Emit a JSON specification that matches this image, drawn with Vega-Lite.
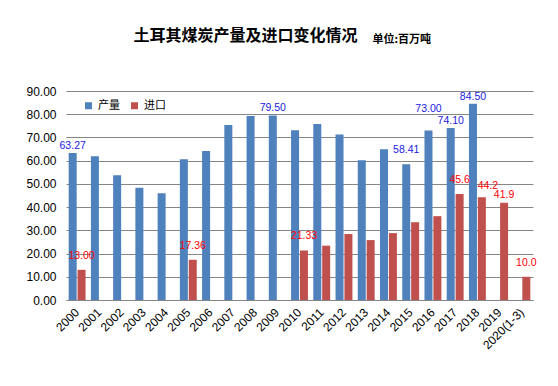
{
  "$schema": "https://vega.github.io/schema/vega-lite/v6.json",
  "width": 467,
  "height": 209,
  "autosize": {"type": "none"},
  "padding": {"left": 66, "top": 91, "right": 25, "bottom": 86},
  "background": "white",
  "title": {
    "text": "土耳其煤炭产量及进口变化情况",
    "anchor": "middle",
    "frame": "group",
    "dx": -54,
    "offset": -24,
    "baseline": "alphabetic",
    "font": "Noto Sans CJK SC",
    "fontSize": 16,
    "fontWeight": "bold",
    "color": "#000000"
  },
  "data": {
    "values": [
      {"year": "2000", "series": "产量", "value": 63.27, "label": "63.27"},
      {"year": "2000", "series": "进口", "value": 13.0, "label": "13.00"},
      {"year": "2001", "series": "产量", "value": 61.9},
      {"year": "2002", "series": "产量", "value": 53.7},
      {"year": "2003", "series": "产量", "value": 48.3},
      {"year": "2004", "series": "产量", "value": 46.0},
      {"year": "2005", "series": "产量", "value": 60.6},
      {"year": "2005", "series": "进口", "value": 17.36, "label": "17.36"},
      {"year": "2006", "series": "产量", "value": 64.2},
      {"year": "2007", "series": "产量", "value": 75.4},
      {"year": "2008", "series": "产量", "value": 79.2},
      {"year": "2009", "series": "产量", "value": 79.5, "label": "79.50"},
      {"year": "2010", "series": "产量", "value": 73.1},
      {"year": "2010", "series": "进口", "value": 21.33, "label": "21.33"},
      {"year": "2011", "series": "产量", "value": 75.8},
      {"year": "2011", "series": "进口", "value": 23.4},
      {"year": "2012", "series": "产量", "value": 71.3},
      {"year": "2012", "series": "进口", "value": 28.4},
      {"year": "2013", "series": "产量", "value": 60.2},
      {"year": "2013", "series": "进口", "value": 25.8},
      {"year": "2014", "series": "产量", "value": 64.9},
      {"year": "2014", "series": "进口", "value": 28.8},
      {"year": "2015", "series": "产量", "value": 58.41, "label": "58.41"},
      {"year": "2015", "series": "进口", "value": 33.5},
      {"year": "2016", "series": "产量", "value": 73.0, "label": "73.00"},
      {"year": "2016", "series": "进口", "value": 36.1},
      {"year": "2017", "series": "产量", "value": 74.1, "label": "74.10"},
      {"year": "2017", "series": "进口", "value": 45.6, "label": "45.6"},
      {"year": "2018", "series": "产量", "value": 84.5, "label": "84.50"},
      {"year": "2018", "series": "进口", "value": 44.2, "label": "44.2"},
      {"year": "2019", "series": "进口", "value": 41.9, "label": "41.9"},
      {"year": "2020(1-3)", "series": "进口", "value": 10.0, "label": "10.0"}
    ]
  },
  "encoding": {
    "x": {
      "field": "year",
      "type": "nominal",
      "sort": null,
      "scale": {"paddingInner": 0.24, "paddingOuter": 0.12},
      "axis": {
        "title": null,
        "labelAngle": -45,
        "labelAlign": "right",
        "labelBaseline": "middle",
        "labelPadding": 10,
        "ticks": false,
        "domainColor": "#868686",
        "labelFont": "Liberation Sans",
        "labelFontSize": 12,
        "labelColor": "#000000"
      }
    },
    "xOffset": {
      "field": "series",
      "type": "nominal",
      "scale": {"domain": ["产量", "进口"], "paddingInner": 0.1}
    },
    "y": {
      "field": "value",
      "type": "quantitative",
      "scale": {"domain": [0, 90], "nice": false},
      "axis": {
        "title": "单位:百万吨",
        "titleAngle": 0,
        "titleAlign": "left",
        "titleBaseline": "alphabetic",
        "titleX": 306,
        "titleY": -49,
        "titleFont": "Noto Sans CJK SC",
        "titleFontSize": 11,
        "titleFontWeight": "bold",
        "titleColor": "#000000",
        "values": [0, 10, 20, 30, 40, 50, 60, 70, 80, 90],
        "format": ".2f",
        "ticks": false,
        "domain": false,
        "labelPadding": 10,
        "labelFont": "Liberation Sans",
        "labelFontSize": 12,
        "labelColor": "#000000",
        "gridColor": "#868686",
        "gridWidth": 1
      }
    }
  },
  "layer": [
    {
      "mark": {"type": "bar"},
      "encoding": {
        "color": {
          "field": "series",
          "type": "nominal",
          "scale": {"domain": ["产量", "进口"], "range": ["#4F81BD", "#C0504D"]},
          "legend": {
            "title": null,
            "orient": "none",
            "direction": "horizontal",
            "legendX": 17,
            "legendY": 9,
            "symbolType": "square",
            "symbolSize": 49,
            "symbolStrokeWidth": 0,
            "labelFont": "Noto Sans CJK SC",
            "labelFontSize": 11,
            "labelColor": "#000000",
            "labelOffset": 4,
            "columnPadding": 9
          }
        }
      }
    },
    {
      "transform": [{"filter": "datum.series === '产量' && datum.label && datum.year !== '2016' && datum.year !== '2015'"}],
      "mark": {"type": "text", "baseline": "bottom", "dy": -2, "font": "Liberation Sans", "fontSize": 10.5, "color": "#2020E0"},
      "encoding": {"text": {"field": "label"}}
    },
    {
      "transform": [{"filter": "datum.series === '产量' && datum.year === '2015'"}],
      "mark": {"type": "text", "baseline": "bottom", "dy": -9, "font": "Liberation Sans", "fontSize": 10.5, "color": "#2020E0"},
      "encoding": {"text": {"field": "label"}}
    },
    {
      "transform": [{"filter": "datum.series === '产量' && datum.year === '2016'"}],
      "mark": {"type": "text", "baseline": "bottom", "dy": -16, "font": "Liberation Sans", "fontSize": 10.5, "color": "#2020E0"},
      "encoding": {"text": {"field": "label"}}
    },
    {
      "transform": [{"filter": "datum.series === '进口' && datum.label && datum.year !== '2018' && datum.year !== '2019'"}],
      "mark": {"type": "text", "baseline": "bottom", "dy": -9, "font": "Liberation Sans", "fontSize": 10.5, "color": "#FF0000"},
      "encoding": {"text": {"field": "label"}}
    },
    {
      "transform": [{"filter": "datum.series === '进口' && datum.year === '2018'"}],
      "mark": {"type": "text", "baseline": "bottom", "dy": -6, "dx": 6, "font": "Liberation Sans", "fontSize": 10.5, "color": "#FF0000"},
      "encoding": {"text": {"field": "label"}}
    },
    {
      "transform": [{"filter": "datum.series === '进口' && datum.year === '2019'"}],
      "mark": {"type": "text", "baseline": "bottom", "dy": -3, "font": "Liberation Sans", "fontSize": 10.5, "color": "#FF0000"},
      "encoding": {"text": {"field": "label"}}
    }
  ],
  "config": {"view": {"stroke": null}}
}
